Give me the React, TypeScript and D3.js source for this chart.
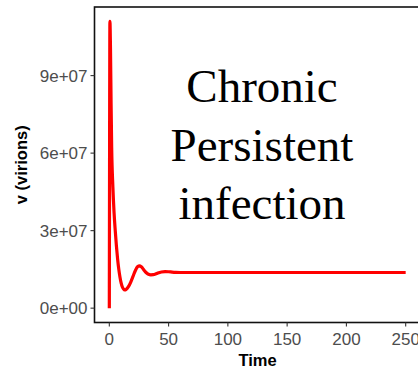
import React from "react";
import * as d3 from "d3";

// Viral load over time (virions)
const times = [0, 0.2, 0.5, 1, 1.5, 2, 3, 4, 5, 6, 7, 8, 9, 10, 11, 12, 13, 14, 16, 18, 20, 22, 24, 25.5, 27, 29, 31, 33, 35, 37, 39, 41, 44, 47, 50, 53, 56, 60, 70, 100, 150, 200, 250];
const virions = [0, 55e6, 111e6, 100e6, 79e6, 62e6, 47e6, 37e6, 30e6, 24e6, 19e6, 15e6, 12e6, 9.7e6, 8.2e6, 7.4e6, 7.05e6, 7.2e6, 8.2e6, 10.0e6, 12.3e6, 14.6e6, 16.1e6, 16.4e6, 16.0e6, 14.9e6, 13.8e6, 13.1e6, 12.9e6, 12.95e6, 13.2e6, 13.6e6, 14.0e6, 14.15e6, 14.1e6, 13.95e6, 13.85e6, 13.8e6, 13.8e6, 13.8e6, 13.8e6, 13.8e6, 13.8e6];

const xTicks = [0, 50, 100, 150, 200, 250];
const yTicks = [0, 3e7, 6e7, 9e7];
const yTickLabels = ["0e+00", "3e+07", "6e+07", "9e+07"];
const annotationLines = ["Chronic", "Persistent", "infection"];

const W = 418;
const H = 371;
const panel = { left: 94.5, right: 420.5, top: 7, bottom: 322.5 };

export default function App() {
  const x = d3.scaleLinear().domain([-12.5, 262.5]).range([panel.left, panel.right]);
  const y = d3.scaleLinear().domain([-5.55e6, 1.1655e8]).range([panel.bottom, panel.top]);

  const data = times.map((t, i) => [t, virions[i]] as [number, number]);
  const line = d3
    .line<[number, number]>()
    .x((d) => x(d[0]))
    .y((d) => y(d[1]))
    .curve(d3.curveMonotoneX);

  const sans = "'Liberation Sans', Arial, Helvetica, sans-serif";
  const serif = "'Liberation Serif', 'Times New Roman', serif";

  return (
    <svg
      width={W}
      height={H}
      style={{ position: "absolute", left: 0, top: 0, background: "#fff" }}
    >
      <defs>
        <clipPath id="panelClip">
          <rect x={panel.left} y={panel.top} width={panel.right - panel.left} height={panel.bottom - panel.top} />
        </clipPath>
      </defs>
      <rect x={0} y={0} width={W} height={H} fill="#fff" />

      <path
        d={line(data) ?? ""}
        fill="none"
        stroke="#FF0000"
        strokeWidth={3.2}
        strokeLinejoin="round"
        strokeLinecap="butt"
        clipPath="url(#panelClip)"
      />

      {annotationLines.map((s, i) => (
        <text
          key={s}
          x={262}
          y={102 + i * 58.5}
          textAnchor="middle"
          fontFamily={serif}
          fontSize={47}
          fill="#000"
        >
          {s}
        </text>
      ))}

      <rect
        x={panel.left}
        y={panel.top}
        width={panel.right - panel.left}
        height={panel.bottom - panel.top}
        fill="none"
        stroke="#111"
        strokeWidth={1.6}
      />

      {yTicks.map((v, i) => (
        <g key={v}>
          <line x1={panel.left - 4} x2={panel.left} y1={y(v)} y2={y(v)} stroke="#333" strokeWidth={1.1} />
          <text
            x={panel.left - 7}
            y={y(v)}
            dy="0.35em"
            textAnchor="end"
            fontFamily={sans}
            fontSize={17}
            fill="#4D4D4D"
          >
            {yTickLabels[i]}
          </text>
        </g>
      ))}

      {xTicks.map((v) => (
        <g key={v}>
          <line x1={x(v)} x2={x(v)} y1={panel.bottom} y2={panel.bottom + 4} stroke="#333" strokeWidth={1.1} />
          <text
            x={x(v)}
            y={panel.bottom + 22}
            textAnchor="middle"
            fontFamily={sans}
            fontSize={17}
            fill="#4D4D4D"
          >
            {v}
          </text>
        </g>
      ))}

      <text
        x={(panel.left + panel.right) / 2}
        y={366}
        textAnchor="middle"
        fontFamily={sans}
        fontWeight="bold"
        fontSize={16.5}
        fill="#000"
      >
        Time
      </text>
      <text
        transform={`translate(27, ${(panel.top + panel.bottom) / 2}) rotate(-90)`}
        textAnchor="middle"
        fontFamily={sans}
        fontWeight="bold"
        fontSize={16.5}
        fill="#000"
      >
        v (virions)
      </text>
    </svg>
  );
}
